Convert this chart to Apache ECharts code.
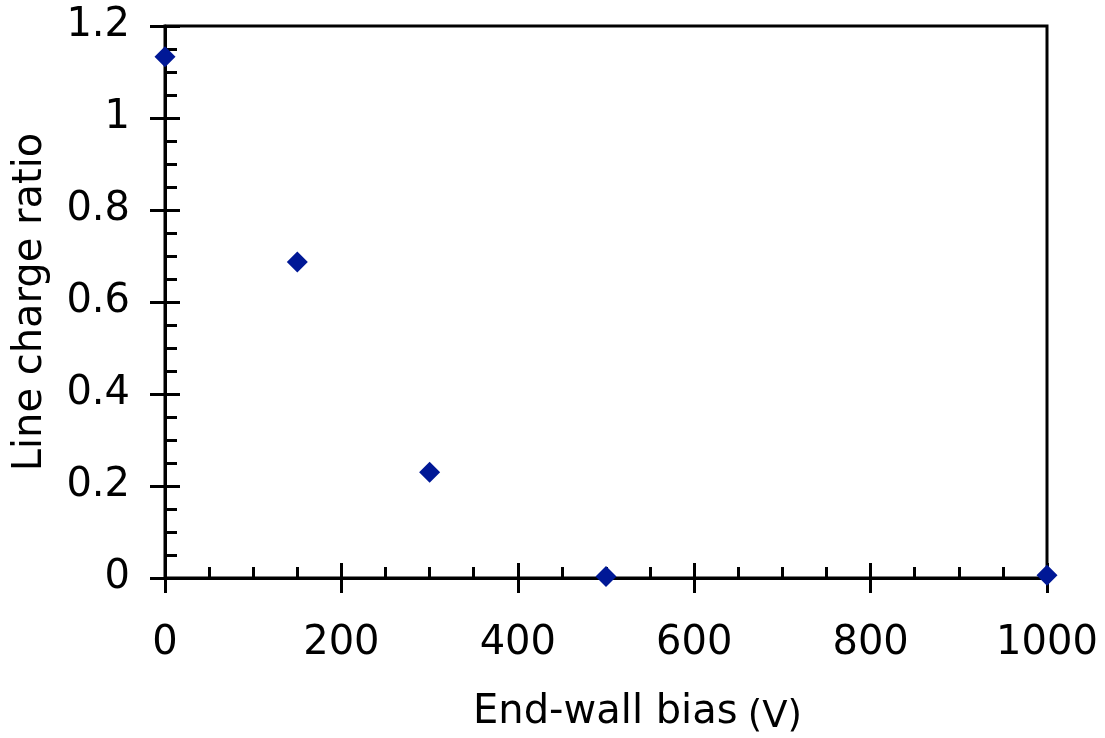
<!DOCTYPE html>
<html>
<head>
<meta charset="utf-8">
<script src="https://cdn.jsdelivr.net/npm/echarts@6/dist/echarts.min.js"></script>
<style>
  html, body { margin: 0; padding: 0; background: #fff; }
  #chart { width: 1105px; height: 738px; }
</style>
</head>
<body>
<div id="chart"></div>
<script>
// End-wall bias (V) vs line charge ratio
const biasVolts = [0, 150, 300, 500, 1000];
const chargeRatio = [1.133, 0.687, 0.230, 0.003, 0.006];

const FONT = 'DejaVu Sans';
const INK = '#000';

const points = biasVolts.map((v, i) => [v, chargeRatio[i]]);

// inside ticks + labels on the main axis, outside ticks on a twin axis
function xAxisBase(inside) {
    return {
        type: 'value',
        min: 0,
        max: 1000,
        interval: 200,
        position: 'bottom',
        splitLine: { show: false },
        axisLine: { show: inside, lineStyle: { color: INK, width: 3 } },
        axisTick: { show: true, inside: inside, length: 15, lineStyle: { color: INK, width: 3 } },
        minorTick: { show: inside, splitNumber: 4, length: 11, lineStyle: { color: INK, width: 3 } },
        axisLabel: {
            show: inside,
            margin: 46,
            color: INK,
            fontFamily: FONT,
            fontSize: 40,
            formatter: v => String(v)
        }
    };
}

function yAxisBase(inside) {
    return {
        type: 'value',
        min: 0,
        max: 1.2,
        interval: 0.2,
        position: 'left',
        splitLine: { show: false },
        axisLine: { show: inside, lineStyle: { color: INK, width: 3 } },
        axisTick: { show: true, inside: inside, length: 15, lineStyle: { color: INK, width: 3 } },
        minorTick: { show: inside, splitNumber: 4, length: 12, lineStyle: { color: INK, width: 3 } },
        axisLabel: {
            show: inside,
            margin: 35,
            color: INK,
            fontFamily: FONT,
            fontSize: 40,
            formatter: v => String(Math.round(v * 10) / 10)
        }
    };
}

const chart = echarts.init(document.getElementById('chart'));

const xMain = xAxisBase(true);
xMain.name = '{a|End-wall bias} {b|(V)}';
xMain.nameLocation = 'middle';
xMain.nameGap = 112;
xMain.nameTextStyle = {
    fontFamily: FONT,
    fontSize: 32,
    color: INK,
    padding: [0, 0, 0, 63],
    rich: {
        a: { fontFamily: FONT, fontSize: 40, color: INK },
        b: { fontFamily: FONT, fontSize: 37, color: INK, padding: [9, 0, 0, 0] }
    }
};

const yMain = yAxisBase(true);
yMain.name = 'Line charge ratio';
yMain.nameLocation = 'middle';
yMain.nameGap = 114;
yMain.nameTextStyle = { fontFamily: FONT, fontSize: 40, color: INK };

chart.setOption({
    animation: false,
    backgroundColor: '#fff',
    grid: {
        left: 165,
        right: 58,
        top: 26,
        bottom: 160,
        outerBoundsMode: 'none',
        show: true,
        borderColor: INK,
        borderWidth: 3,
        backgroundColor: 'transparent'
    },
    xAxis: [xMain, xAxisBase(false)],
    yAxis: [yMain, yAxisBase(false)],
    series: [
        {
            type: 'scatter',
            data: points,
            symbol: 'diamond',
            symbolSize: 21,
            clip: false,
            itemStyle: { color: '#001896', opacity: 1 }
        }
    ]
});
</script>
</body>
</html>
